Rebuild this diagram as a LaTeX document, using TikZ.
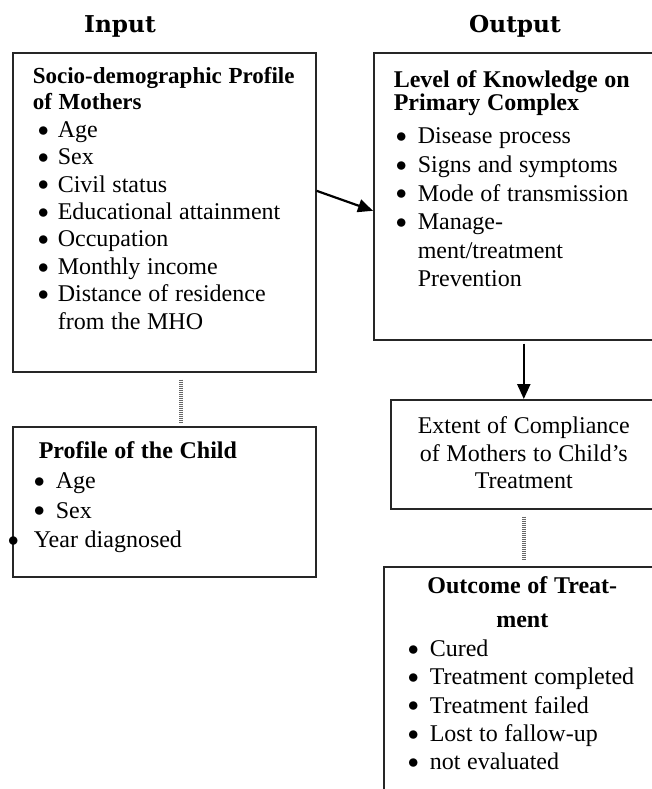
\documentclass[tikz,border=0pt]{standalone}
\usepackage{fontspec}
\setmainfont{Liberation Serif}
\newfontfamily\headfont{DejaVu Serif}
\usetikzlibrary{arrows.meta}
\newcommand{\dotmark}{\raisebox{0.6pt}{\fontsize{11}{12}\selectfont$\bullet$}}
\newcommand{\itembullet}[2]{\leavevmode\hspace*{#1}\makebox[#2][l]{\dotmark}}

\begin{document}
\begin{tikzpicture}[x=0.5pt,y=-0.5pt,
    box/.style={draw=black!85,line width=0.8pt,anchor=north west,inner xsep=10pt,inner ysep=0pt},
    colhead/.style={anchor=base,font=\headfont\bfseries\fontsize{11.6}{14}\selectfont},
    arr/.style={-{Triangle[length=7.5pt,width=6.5pt]},line width=1.1pt},
    dotline/.style={draw=black!60,line width=2pt,dash pattern=on 0.5pt off 0.5pt}]
    \useasboundingbox (0,0) rectangle (652,789);
    \clip (0,0) rectangle (652,789);

    % Column titles
    \node[colhead] (input) at (120,32) {Input};
    \node[colhead] (output) at (515,32) {Output};

    % Input side
    \node[box,text width=131.5pt,text height=15.5pt,text depth=144pt] (mothers) at (12,52) {\fontsize{12}{13.7}\selectfont
        {\bfseries\fontsize{11.5}{13.7}\selectfont Socio-demographic Profile}\\[-0.7pt]
        {\bfseries\fontsize{11.5}{13.7}\selectfont of Mothers}\\
        \itembullet{2.5pt}{10pt}Age\\
        \itembullet{2.5pt}{10pt}Sex\\
        \itembullet{2.5pt}{10pt}Civil status\\
        \itembullet{2.5pt}{10pt}Educational attainment\\
        \itembullet{2.5pt}{10pt}Occupation\\
        \itembullet{2.5pt}{10pt}Monthly income\\
        \itembullet{2.5pt}{10pt}Distance of residence\\
        \leavevmode\hspace*{12.5pt}from the MHO\par};
    \node[box,text width=130.5pt,inner xsep=10.5pt,text height=16pt,text depth=59pt] (child) at (12,426) {\fontsize{12}{14.8}\selectfont
        \leavevmode\hspace*{2.5pt}\textbf{Profile of the Child}\\
        \itembullet{0pt}{11pt}Age\\
        \itembullet{0pt}{11pt}Sex\\
        \leavevmode\llap{\dotmark\hspace{7.5pt}}Year diagnosed\par};

    % Output side
    \node[box,text width=133.5pt,text height=17.5pt,text depth=126pt] (knowledge) at (373,52) {\fontsize{12}{14.3}\selectfont
        {\bfseries Level of Knowledge on}\\[-2.8pt]
        {\bfseries Primary Complex}\\[2.2pt]
        \itembullet{1pt}{11pt}Disease process\\
        \itembullet{1pt}{11pt}Signs and symptoms\\
        \itembullet{1pt}{11pt}Mode of transmission\\
        \itembullet{1pt}{11pt}Manage-\\
        \leavevmode\hspace*{12pt}ment/treatment\\
        \leavevmode\hspace*{12pt}Prevention\par};
    \node[box,text width=133pt,inner xsep=0pt,align=center,text height=17pt,text depth=37.5pt] (compliance) at (390,399) {\fontsize{12}{13.75}\selectfont
        Extent of Compliance\\of Mothers to Child's\\Treatment\par};
    \node[box,text width=118.5pt,text height=13.5pt,text depth=103.5pt] (outcome) at (383,566) {\fontsize{12}{14.2}\selectfont
        {\centering\bfseries Outcome of Treat-\\[2.8pt]ment\par}
        \raggedright
        \itembullet{2pt}{11pt}Cured\\
        \itembullet{2pt}{11pt}Treatment completed\\
        \itembullet{2pt}{11pt}Treatment failed\\
        \itembullet{2pt}{11pt}Lost to fallow-up\\
        \itembullet{2pt}{11pt}not evaluated\par};

    % Connections
    \draw[arr] ([yshift=10.75pt]mothers.east) -- ([yshift=-7.25pt]knowledge.west);
    \draw[arr,shorten <=1.5pt] (compliance.north |- knowledge.south) -- (compliance.north);
    \draw[dotline,shorten <=3.5pt,shorten >=2pt] ([xshift=8.25pt]mothers.south) -- ([xshift=8.25pt]child.north);
    \draw[dotline,shorten <=3.5pt,shorten >=3pt] (compliance.south) -- (compliance.south |- outcome.north);
\end{tikzpicture}
\end{document}
